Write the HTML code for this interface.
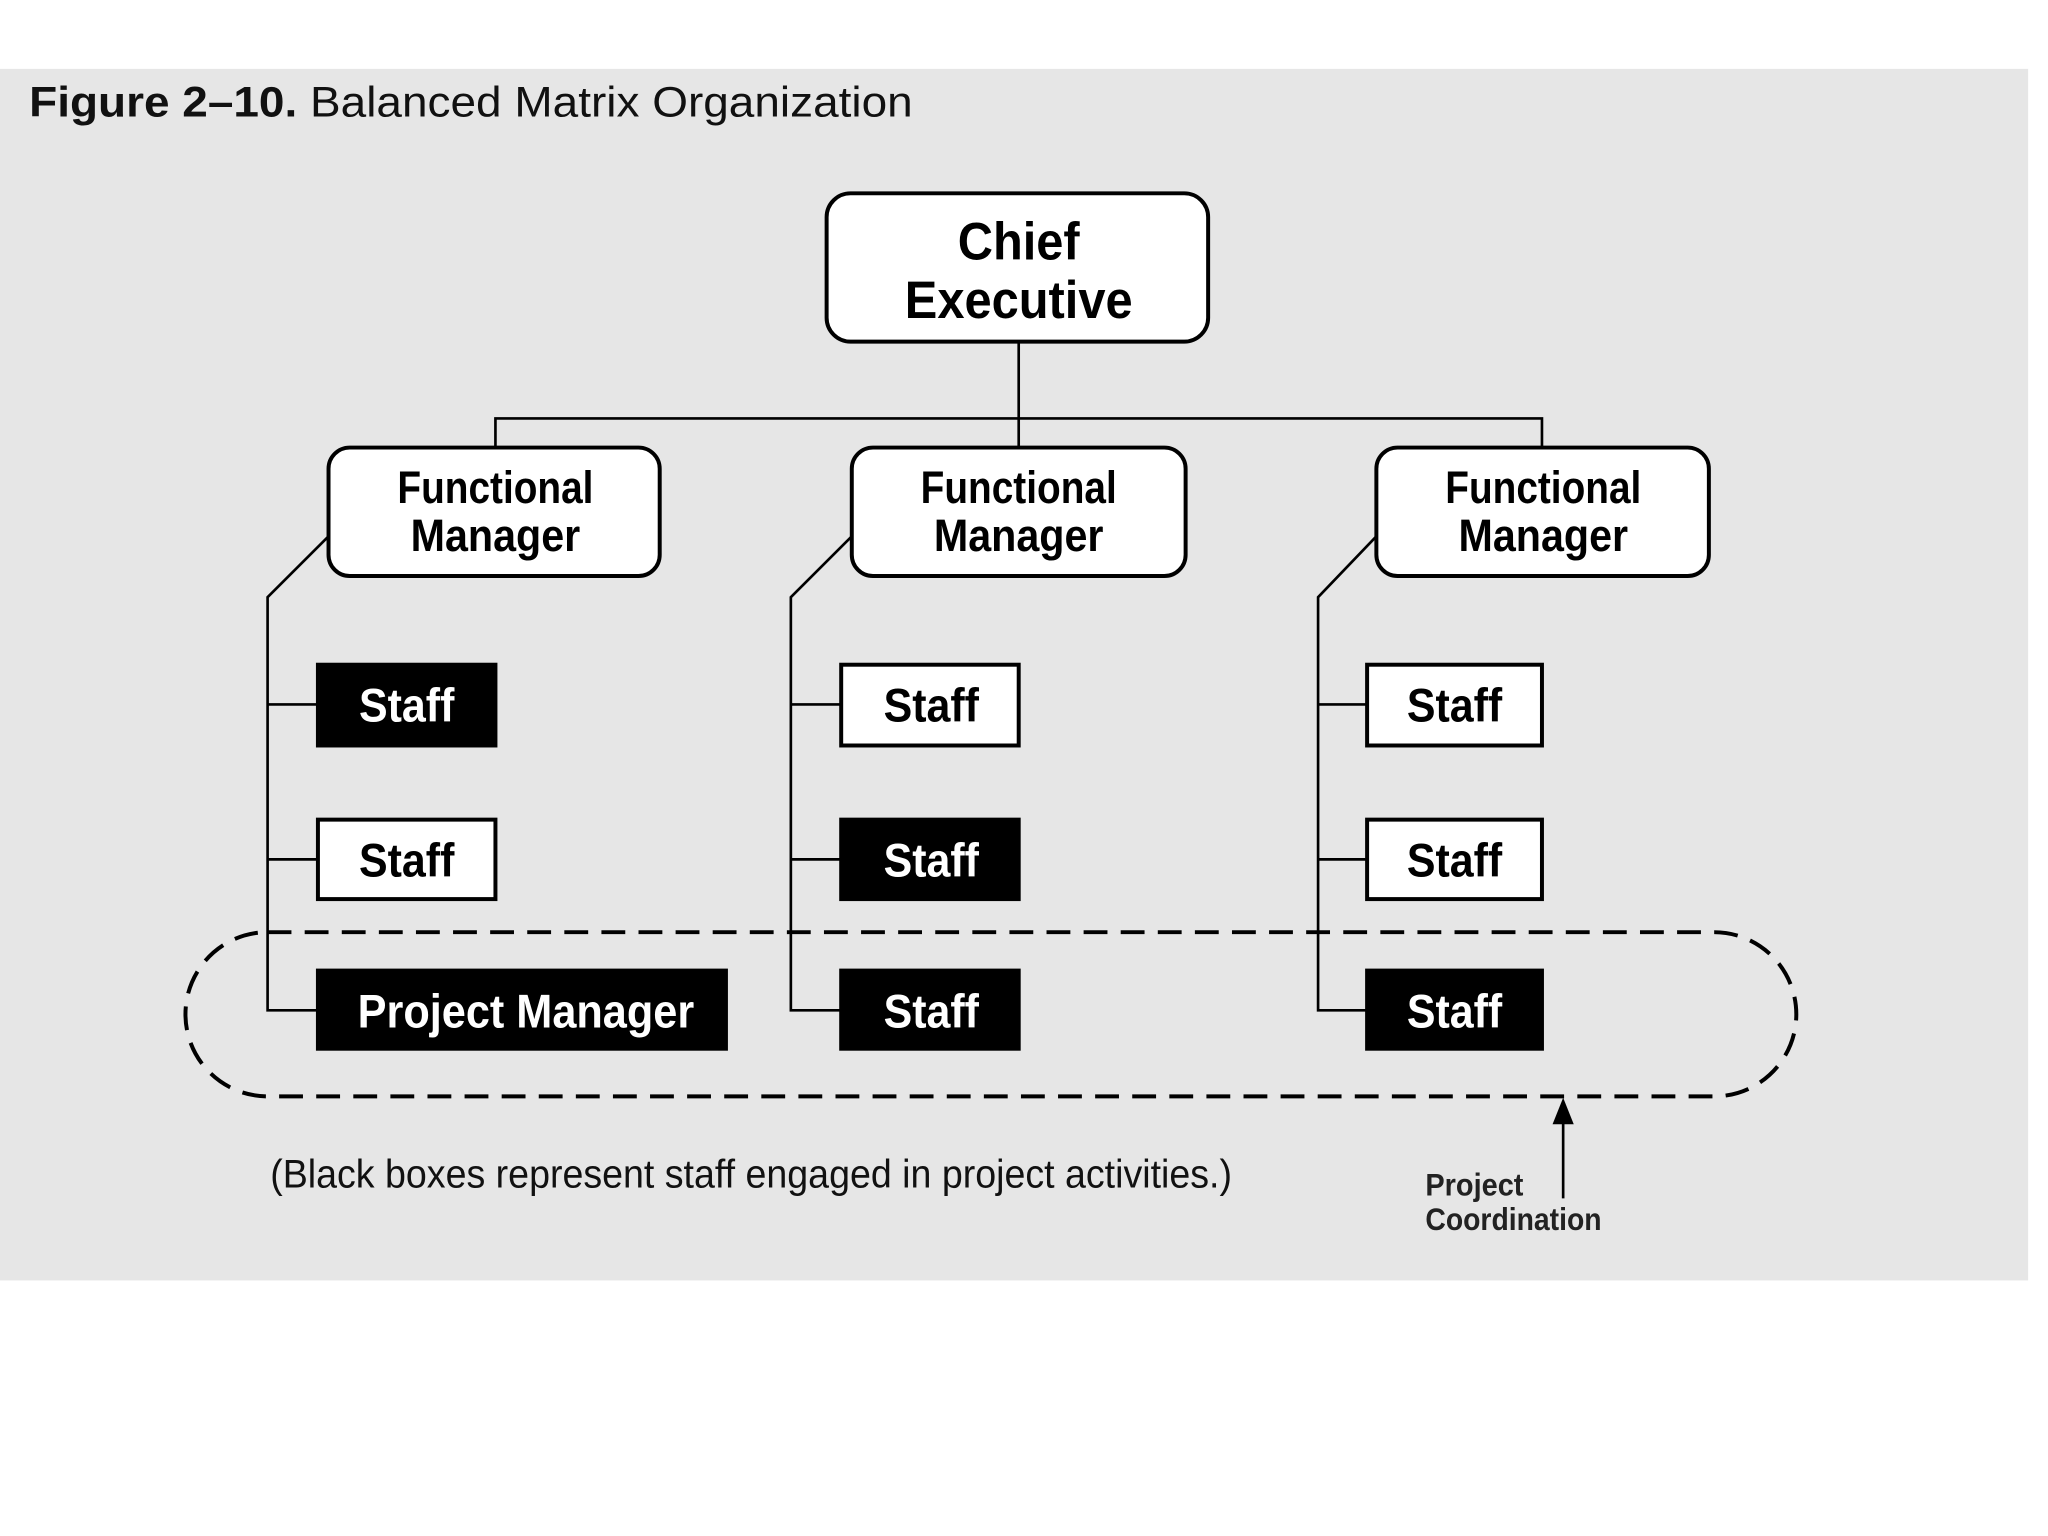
<!DOCTYPE html>
<html><head><meta charset="utf-8"><style>
html,body{margin:0;padding:0;background:#fff;width:2048px;height:1536px;overflow:hidden}
svg{display:block}
text{font-family:"Liberation Sans Narrow","Liberation Sans",sans-serif}
</style></head><body>
<svg width="2048" height="1536" viewBox="0 0 1546 1160" preserveAspectRatio="none" xmlns="http://www.w3.org/2000/svg">
<rect x="0" y="0" width="1546" height="1160" fill="#fff"/>
<rect x="0" y="52" width="1531" height="915" fill="#e6e6e6"/>
<text x="22" y="88" font-size="32" fill="#111" textLength="667" lengthAdjust="spacingAndGlyphs"><tspan font-weight="bold">Figure 2–10.</tspan> Balanced Matrix Organization</text>
<g stroke="#000" stroke-width="2" fill="none">
<line x1="769" y1="258" x2="769" y2="338"/>
<polyline points="374,338 374,316 1164,316 1164,338"/>
<polyline points="248,405 202,451 202,763 240,763"/>
<line x1="202" y1="532" x2="240" y2="532"/><line x1="202" y1="649" x2="240" y2="649"/>
<polyline points="643,405 597,451 597,763 635,763"/>
<line x1="597" y1="532" x2="635" y2="532"/><line x1="597" y1="649" x2="635" y2="649"/>
<polyline points="1039,405 995,451 995,763 1032,763"/>
<line x1="995" y1="532" x2="1032" y2="532"/><line x1="995" y1="649" x2="1032" y2="649"/>
</g>
<g stroke="#000" stroke-width="3" fill="#fff">
<rect x="624" y="146" width="288" height="112" rx="18"/>
<rect x="248" y="338" width="250" height="97" rx="16"/>
<rect x="643" y="338" width="252" height="97" rx="16"/>
<rect x="1039" y="338" width="251" height="97" rx="16"/>
<rect x="240" y="502" width="134" height="61" fill="#000"/>
<rect x="240" y="619" width="134" height="60"/>
<rect x="240" y="733" width="308" height="59" fill="#000"/>
<rect x="635" y="502" width="134" height="61"/>
<rect x="635" y="619" width="134" height="60" fill="#000"/>
<rect x="635" y="733" width="134" height="59" fill="#000"/>
<rect x="1032" y="502" width="132" height="61"/>
<rect x="1032" y="619" width="132" height="60"/>
<rect x="1032" y="733" width="132" height="59" fill="#000"/>
</g>
<rect x="140" y="704" width="1216" height="124" rx="62" ry="62" fill="none" stroke="#000" stroke-width="3" stroke-dasharray="18,10"/>
<line x1="1180" y1="905" x2="1180" y2="845" stroke="#000" stroke-width="2"/>
<polygon points="1180,829 1172,849 1188,849" fill="#000"/>
<g font-weight="bold" text-anchor="middle" fill="#000">
<text x="769" y="196" font-size="40" textLength="92" lengthAdjust="spacingAndGlyphs">Chief</text>
<text x="769" y="240" font-size="40" textLength="172" lengthAdjust="spacingAndGlyphs">Executive</text>
<text x="374" y="380" font-size="34" textLength="148" lengthAdjust="spacingAndGlyphs">Functional</text>
<text x="374" y="416" font-size="34" textLength="128" lengthAdjust="spacingAndGlyphs">Manager</text>
<text x="769" y="380" font-size="34" textLength="148" lengthAdjust="spacingAndGlyphs">Functional</text>
<text x="769" y="416" font-size="34" textLength="128" lengthAdjust="spacingAndGlyphs">Manager</text>
<text x="1165" y="380" font-size="34" textLength="148" lengthAdjust="spacingAndGlyphs">Functional</text>
<text x="1165" y="416" font-size="34" textLength="128" lengthAdjust="spacingAndGlyphs">Manager</text>
<text x="307" y="545" font-size="36" fill="#fff" textLength="72" lengthAdjust="spacingAndGlyphs">Staff</text>
<text x="307" y="662" font-size="36" textLength="72" lengthAdjust="spacingAndGlyphs">Staff</text>
<text x="397" y="776" font-size="36" fill="#fff" textLength="254" lengthAdjust="spacingAndGlyphs">Project Manager</text>
<text x="703" y="545" font-size="36" textLength="72" lengthAdjust="spacingAndGlyphs">Staff</text>
<text x="703" y="662" font-size="36" fill="#fff" textLength="72" lengthAdjust="spacingAndGlyphs">Staff</text>
<text x="703" y="776" font-size="36" fill="#fff" textLength="72" lengthAdjust="spacingAndGlyphs">Staff</text>
<text x="1098" y="545" font-size="36" textLength="72" lengthAdjust="spacingAndGlyphs">Staff</text>
<text x="1098" y="662" font-size="36" textLength="72" lengthAdjust="spacingAndGlyphs">Staff</text>
<text x="1098" y="776" font-size="36" fill="#fff" textLength="72" lengthAdjust="spacingAndGlyphs">Staff</text>
</g>
<text x="204" y="897" font-size="30" fill="#111" textLength="726" lengthAdjust="spacingAndGlyphs">(Black boxes represent staff engaged in project activities.)</text>
<text x="1076" y="903" font-size="24" font-weight="bold" fill="#222" textLength="74" lengthAdjust="spacingAndGlyphs">Project</text>
<text x="1076" y="929" font-size="24" font-weight="bold" fill="#222" textLength="133" lengthAdjust="spacingAndGlyphs">Coordination</text>
</svg>
</body></html>
